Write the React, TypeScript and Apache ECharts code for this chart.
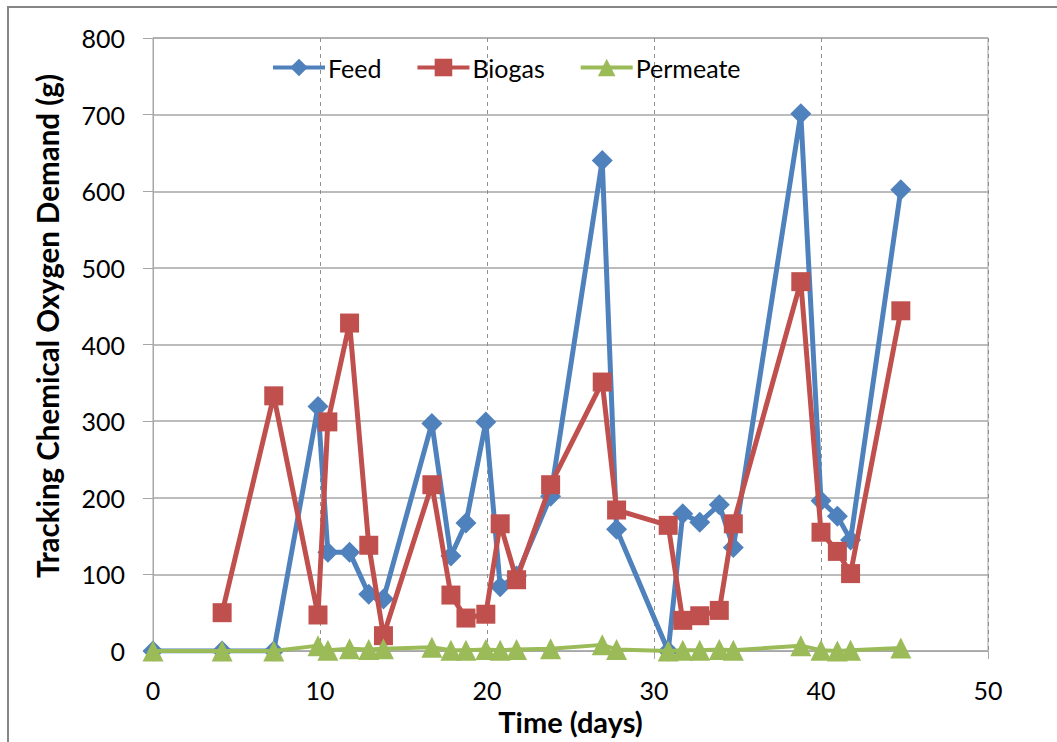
import React, { useEffect, useRef } from "react";
import * as echarts from "echarts";

const days = [0, 4.14, 7.23, 9.88, 10.47, 11.77, 12.92, 13.8, 16.7, 17.84, 18.74, 19.93, 20.79, 21.77, 23.81, 26.9, 27.76, 30.85, 31.72, 32.74, 33.91, 34.75, 38.79, 40.0, 40.98, 41.77, 44.78];
const feed = [0, 0, 0, 319, 129, 129, 74, 68, 297, 124, 167, 299, 84, 98, 202, 640, 159, 0, 179, 168, 191, 135, 701, 196, 176, 145, 602];
const biogas = [null, 50, 333, 47, 299, 428, 138, 20, 217, 73, 43, 48, 166, 93, 217, 351, 184, 164, 40, 46, 53, 166, 482, 155, 130, 101, 444];
const permeate = [0, 0, 0, 7, 1, 3, 2, 3, 5, 1, 1, 2, 1, 2, 3, 8, 2, 0, 1, 1, 2, 1, 7, 1, 0, 1, 4];

const seriesNames = ["Feed", "Biogas", "Permeate"];
const seriesColors = ["#4F81BD", "#C0504D", "#9BBB59"];
const yTitle = "Tracking Chemical Oxygen Demand (g)";
const xTitle = "Time (days)";

const FONT = "Lato, 'Open Sans', sans-serif";

export default function App() {
  const ref = useRef<HTMLDivElement>(null);
  useEffect(() => {
    if (!ref.current) return;
    const chart = echarts.init(ref.current, null, { renderer: "svg" });
    const pair = (vals: (number | null)[]) =>
      days.map((d, i) => (vals[i] === null ? null : [d, vals[i]])).filter((p) => p !== null);
    const allVals = [feed, biogas, permeate];
    const symbols = ["diamond", "rect", "triangle"];
    const sizes = [21, 19, 21];
    chart.setOption({
      animation: false,
      backgroundColor: "#ffffff",
      textStyle: { fontFamily: FONT },
      grid: {
        left: 153,
        right: 69,
        top: 38,
        bottom: 91,
        show: true,
        borderColor: "#A6A6A6",
        borderWidth: 1,
      },
      legend: {
        left: 266,
        top: 50,
        itemWidth: 52,
        itemHeight: 22,
        itemGap: 34,
        textStyle: { fontSize: 25, color: "#000", fontFamily: FONT, padding: [0, 0, 0, -2] },
        lineStyle: { width: 4 },
        data: seriesNames,
      },
      xAxis: {
        type: "value",
        min: 0,
        max: 50,
        interval: 10,
        axisLine: { show: true, lineStyle: { color: "#A6A6A6", width: 1 } },
        axisTick: { show: true, length: 8, lineStyle: { color: "#A6A6A6" } },
        axisLabel: { fontSize: 25, color: "#000", margin: 26, fontFamily: FONT },
        splitLine: { show: true, lineStyle: { color: "#909090", type: [4, 4], width: 1 } },
        name: xTitle,
        nameLocation: "middle",
        nameGap: 53,
        nameTextStyle: { fontSize: 29, fontWeight: "bold", color: "#000", fontFamily: FONT },
      },
      yAxis: {
        type: "value",
        min: 0,
        max: 800,
        interval: 100,
        axisLine: { show: true, lineStyle: { color: "#A6A6A6", width: 1 } },
        axisTick: { show: true, length: 10, lineStyle: { color: "#A6A6A6" } },
        axisLabel: { fontSize: 25, color: "#000", margin: 28, fontFamily: FONT },
        splitLine: { show: true, lineStyle: { color: "#A6A6A6", width: 1.5 } },
      },
      graphic: [
        {
          type: "rect",
          shape: { x: 8, y: 7, width: 1070, height: 760 },
          style: { fill: "none", stroke: "#868686", lineWidth: 2 },
          silent: true,
        },
        {
          type: "text",
          x: 47,
          y: 326,
          rotation: Math.PI / 2,
          style: {
            text: yTitle,
            fontSize: 29.5,
            fontWeight: "bold",
            fill: "#000",
            fontFamily: FONT,
            align: "center",
            verticalAlign: "middle",
          },
        },
      ],
      series: seriesNames.map((name, i) => ({
        name,
        type: "line",
        data: pair(allVals[i]),
        symbol: symbols[i],
        symbolSize: sizes[i],
        showAllSymbol: true,
        lineStyle: { color: seriesColors[i], width: i === 2 ? 4 : 5 },
        itemStyle: { color: seriesColors[i] },
        emphasis: { disabled: true },
        z: 2 + i,
      })),
    });
    return () => chart.dispose();
  }, []);
  return (
    <div
      ref={ref}
      style={{ position: "fixed", left: 0, top: 0, width: 1057, height: 742, background: "#fff" }}
    />
  );
}
